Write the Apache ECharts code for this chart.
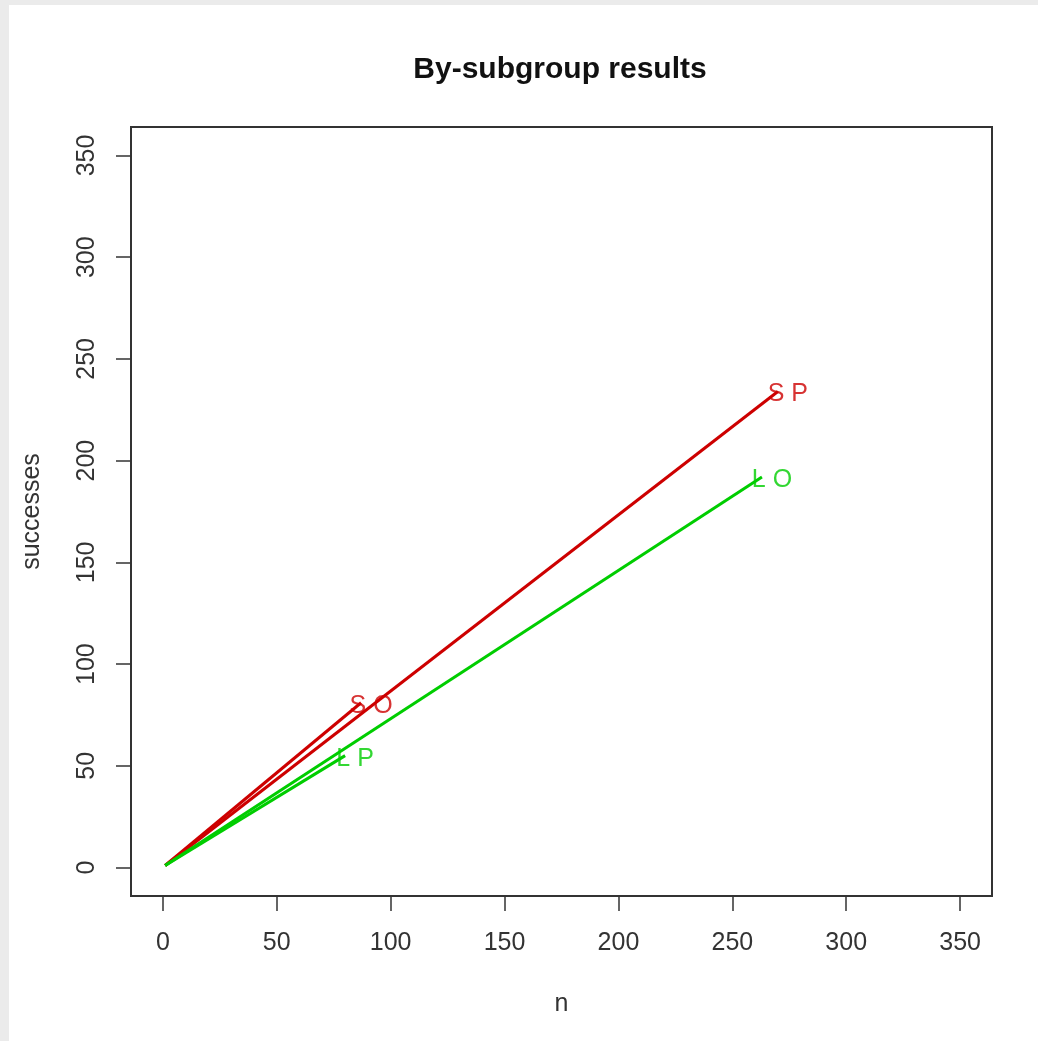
<!DOCTYPE html>
<html>
<head>
<meta charset="utf-8">
<script src="https://cdn.jsdelivr.net/npm/echarts@6/dist/echarts.min.js"></script>
<style>
html,body{margin:0;padding:0;background:#ebebeb;width:1038px;height:1041px;overflow:hidden;}
#chart{position:absolute;left:9px;top:5px;width:1029px;height:1036px;background:#fff;}
</style>
</head>
<body>
<div id="chart"></div>
<script>
// Subgroups: label, n, successes
const groupLabels = ['S O', 'S P', 'L O', 'L P'];
const groupN = [87, 270, 263, 80];
const groupSuccesses = [81, 234, 192, 55];
const groupColors = ['#cd0000', '#cd0000', '#00cd00', '#00cd00'];
const startPoint = [1, 1];
const tickValues = [0, 50, 100, 150, 200, 250, 300, 350];

const chart = echarts.init(document.getElementById('chart'));
const font = 'Liberation Sans, Arial, sans-serif';

const series = [];
groupLabels.forEach((lab, i) => {
  series.push({
    type: 'line',
    data: [startPoint, [groupN[i], groupSuccesses[i]]],
    symbol: 'none',
    lineStyle: { color: groupColors[i], width: 3 },
    silent: true,
    z: 2
  });
  series.push({
    type: 'scatter',
    data: [[groupN[i], groupSuccesses[i]]],
    symbolSize: 1,
    itemStyle: { color: 'rgba(0,0,0,0)' },
    label: {
      show: true,
      formatter: lab,
      position: 'inside',
      offset: [10, 3],
      color: groupColors[i],
      fontFamily: font,
      fontSize: 25,
      align: 'center',
      verticalAlign: 'middle'
    },
    silent: true,
    z: 3
  });
});

const axisCommon = {
  type: 'value',
  min: -14,
  max: 364,
  splitLine: { show: false },
  axisLine: { show: false, onZero: false },
  axisTick: {
    show: true,
    customValues: tickValues,
    length: 15,
    lineStyle: { color: '#333', width: 1.5 }
  },
  axisLabel: {
    customValues: tickValues,
    color: '#333',
    fontFamily: font,
    fontSize: 25
  },
  nameLocation: 'middle',
  nameTextStyle: { color: '#333', fontFamily: font, fontSize: 25 }
};

chart.setOption({
  animation: false,
  backgroundColor: '#fff',
  title: {
    text: 'By-subgroup results',
    left: 546,
    top: 45,
    textAlign: 'center',
    textStyle: { fontFamily: font, fontSize: 30, fontWeight: 'bold', color: '#111' }
  },
  grid: {
    left: 122, top: 122, right: 46, bottom: 145,
    show: true, borderColor: '#333', borderWidth: 2, backgroundColor: 'transparent'
  },
  xAxis: Object.assign({}, axisCommon, {
    name: 'n', nameGap: 96,
    axisLabel: Object.assign({}, axisCommon.axisLabel, { margin: 35 })
  }),
  yAxis: Object.assign({}, axisCommon, {
    name: 'successes', nameGap: 86, nameRotate: 90,
    axisLabel: Object.assign({}, axisCommon.axisLabel, { margin: 31, rotate: 90 })
  }),
  series: series
});
</script>
</body>
</html>
